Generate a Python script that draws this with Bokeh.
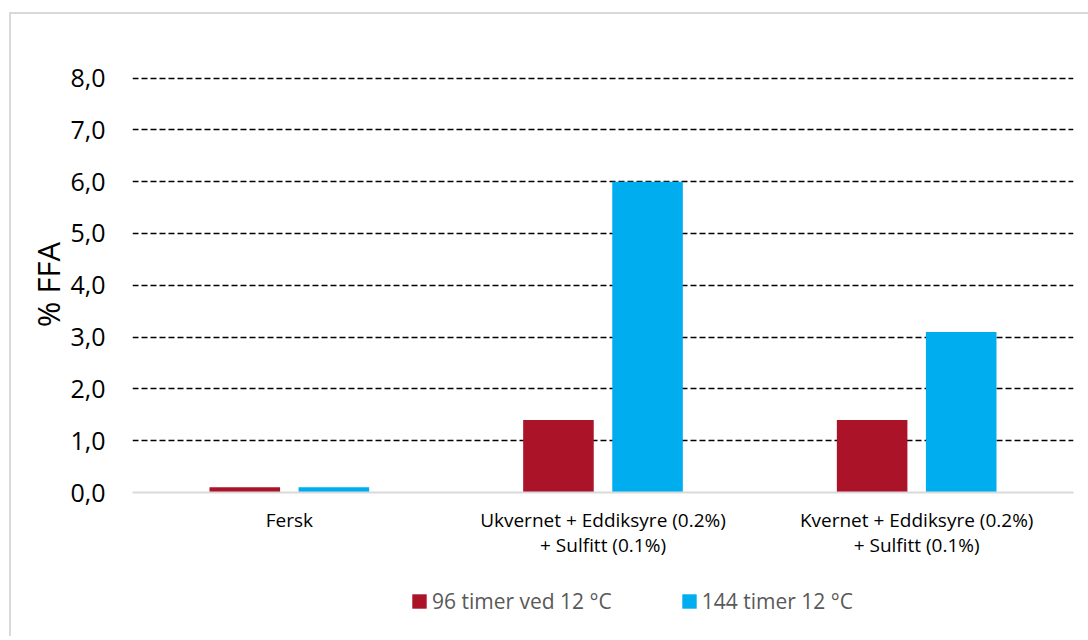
from bokeh.plotting import figure
from bokeh.layouts import column
from bokeh.models import ColumnDataSource, FactorRange, Range1d, FixedTicker, Legend, LegendItem
from bokeh.transform import dodge
from bokeh.embed import file_html
from bokeh.resources import INLINE

categories = ["Fersk", "Ukvernet + Eddiksyre (0.2%)\n+ Sulfitt (0.1%)", "Kvernet + Eddiksyre (0.2%)\n+ Sulfitt (0.1%)"]
series_names = ["96 timer ved 12 °C", "144 timer 12 °C"]
values_96 = [0.1, 1.4, 1.4]
values_144 = [0.1, 6.0, 3.1]
y_ticks = [0, 1, 2, 3, 4, 5, 6, 7, 8]
y_tick_labels = {t: f"{t:.1f}".replace(".", ",") for t in y_ticks}

FONT = "Open Sans"
RED = "#AB1329"
BLUE = "#00AEEF"

src = ColumnDataSource(dict(cat=categories, v96=values_96, v144=values_144))

p = figure(width=1077, height=570, x_range=FactorRange(*categories, range_padding=0),
           y_range=Range1d(0, 8.03), output_backend="svg", toolbar_location=None,
           min_border_left=121, min_border_right=15, min_border_top=62, min_border_bottom=92)
p.outline_line_color = None
p.background_fill_color = "white"
p.border_fill_color = "white"

r1 = p.vbar(x=dodge("cat", -0.142, range=p.x_range), top="v96", width=0.225, source=src,
            fill_color=RED, line_color=None)
r2 = p.vbar(x=dodge("cat", 0.142, range=p.x_range), top="v144", width=0.225, source=src,
            fill_color=BLUE, line_color=None)

p.xgrid.grid_line_color = None
p.ygrid.ticker = FixedTicker(ticks=y_ticks[1:])
p.ygrid.grid_line_color = "black"
p.ygrid.grid_line_dash = "6 3"
p.ygrid.grid_line_width = 1.5

p.yaxis.ticker = FixedTicker(ticks=y_ticks)
p.yaxis.major_label_overrides = y_tick_labels
p.yaxis.axis_line_color = None
p.yaxis.major_tick_line_color = None
p.yaxis.minor_tick_line_color = None
p.yaxis.major_label_standoff = 21
p.yaxis.major_label_text_font = FONT
p.yaxis.major_label_text_font_size = "25px"
p.yaxis.major_label_text_color = "black"
p.yaxis.axis_label = "% FFA"
p.yaxis.axis_label_text_font = FONT
p.yaxis.axis_label_text_font_size = "31px"
p.yaxis.axis_label_text_font_style = "normal"
p.yaxis.axis_label_text_color = "black"
p.yaxis.axis_label_standoff = -2

p.xaxis.axis_line_color = "#D9D9D9"
p.xaxis.axis_line_width = 2
p.xaxis.major_tick_line_color = None
p.xaxis.minor_tick_line_color = None
p.xaxis.major_label_standoff = 8
p.xaxis.major_label_text_font = FONT
p.xaxis.major_label_text_font_size = "19px"
p.xaxis.major_label_text_line_height = 0.97
p.xaxis.major_label_text_color = "black"

# legend strip below the chart (frame aligned with the chart frame by the column layout)
leg = figure(width=1077, height=52, x_range=Range1d(0, 1), y_range=Range1d(0, 1),
             output_backend="svg", toolbar_location=None,
             min_border_left=0, min_border_right=0, min_border_top=0, min_border_bottom=0)
leg.axis.visible = False
leg.grid.visible = False
leg.outline_line_color = None
leg.background_fill_color = "white"
leg.border_fill_color = "white"
proxy = ColumnDataSource(dict(x=[-10], top=[0]))
l1 = leg.vbar(x="x", top="top", width=0.1, source=proxy, fill_color=RED, line_color=None)
l2 = leg.vbar(x="x", top="top", width=0.1, source=proxy, fill_color=BLUE, line_color=None)
legend = Legend(items=[LegendItem(label=series_names[0], renderers=[l1]),
                       LegendItem(label=series_names[1], renderers=[l2])],
                orientation="horizontal", location=(278, 21),
                glyph_width=18, glyph_height=18, label_standoff=4, spacing=68,
                padding=0, margin=0, border_line_color=None, background_fill_alpha=0,
                label_text_font=FONT, label_text_font_size="21px", label_text_color="#595959",
                label_height=20)
leg.add_layout(legend, "center")

layout = column(p, leg, spacing=0)
layout.margin = (12, 0, 0, 9)
layout.styles = {"border-left": "2px solid #D9D9D9", "border-top": "2px solid #D9D9D9"}

open("out.html", "w").write(file_html(layout, INLINE))
